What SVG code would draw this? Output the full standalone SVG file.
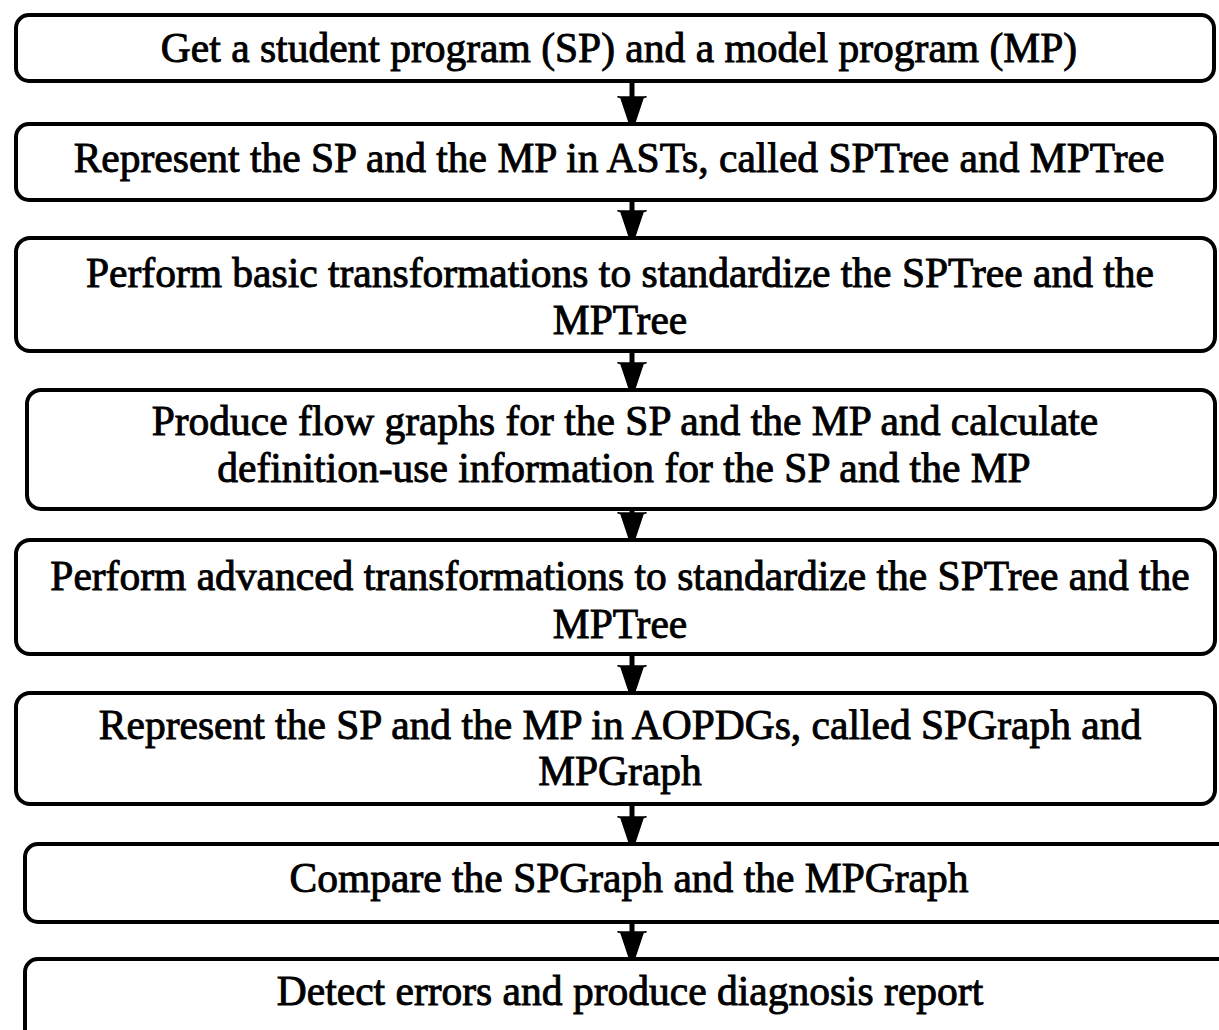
<svg xmlns="http://www.w3.org/2000/svg" width="1219" height="1030" viewBox="0 0 1219 1030">
  <style>
    .box { fill: #ffffff; stroke: #000000; stroke-width: 4; }
    .label { font-family: "Liberation Serif", "Times New Roman", serif; font-size: 41.5px; fill: #000000; stroke: #000000; stroke-width: 0.9; text-anchor: middle; }
    .conn { stroke: #000000; stroke-width: 5; fill: none; marker-end: url(#arrowhead); }
  </style>
  <defs>
    <marker id="arrowhead" markerUnits="userSpaceOnUse" markerWidth="30" markerHeight="32" viewBox="-27 -16 29 32" refX="0" refY="0" orient="auto">
      <path d="M -25,-14 Q -26,-14 -24,-11 L 0,-3 L 0,3 L -24,11 Q -26,14 -25,14 Z" fill="#000000" stroke="#000000" stroke-width="1.5" stroke-linejoin="round"/>
    </marker>
  </defs>
  <rect width="1219" height="1030" fill="#ffffff"/>

  <!-- process steps -->
  <g id="step1">
    <rect class="box" x="16" y="15" width="1198" height="66" rx="13"/>
    <text class="label" x="619" y="62">Get a student program (SP) and a model program (MP)</text>
  </g>
  <g id="step2">
    <rect class="box" x="16" y="124" width="1199" height="76" rx="13"/>
    <text class="label" x="619" y="172">Represent the SP and the MP in ASTs, called SPTree and MPTree</text>
  </g>
  <g id="step3">
    <rect class="box" x="16" y="238" width="1199" height="113" rx="14"/>
    <text class="label" x="620" y="287">Perform basic transformations to standardize the SPTree and the</text>
    <text class="label" x="620" y="334">MPTree</text>
  </g>
  <g id="step4">
    <rect class="box" x="27" y="390" width="1188" height="119" rx="14"/>
    <text class="label" x="625" y="435">Produce flow graphs for the SP and the MP and calculate</text>
    <text class="label" x="624" y="482">definition-use information for the SP and the MP</text>
  </g>
  <g id="step5">
    <rect class="box" x="16" y="540" width="1199" height="114" rx="14"/>
    <text class="label" x="620" y="590">Perform advanced transformations to standardize the SPTree and the</text>
    <text class="label" x="620" y="638">MPTree</text>
  </g>
  <g id="step6">
    <rect class="box" x="16" y="693" width="1199" height="111" rx="14"/>
    <text class="label" x="620" y="739">Represent the SP and the MP in AOPDGs, called SPGraph and</text>
    <text class="label" x="620" y="785">MPGraph</text>
  </g>
  <g id="step7">
    <rect class="box" x="25" y="844" width="1220" height="78" rx="13"/>
    <text class="label" x="629" y="892">Compare the SPGraph and the MPGraph</text>
  </g>
  <g id="step8">
    <rect class="box" x="25" y="959" width="1220" height="120" rx="13"/>
    <text class="label" x="630" y="1005">Detect errors and produce diagnosis report</text>
  </g>

  <!-- connectors between consecutive steps -->
  <g id="connectors">
    <line class="conn" x1="632" y1="81" x2="632" y2="122"/>
    <line class="conn" x1="632" y1="200" x2="632" y2="236"/>
    <line class="conn" x1="632" y1="351" x2="632" y2="388"/>
    <line class="conn" x1="632" y1="509" x2="632" y2="538"/>
    <line class="conn" x1="632" y1="654" x2="632" y2="691"/>
    <line class="conn" x1="632" y1="804" x2="632" y2="842"/>
    <line class="conn" x1="632" y1="922" x2="632" y2="957"/>
  </g>
</svg>
